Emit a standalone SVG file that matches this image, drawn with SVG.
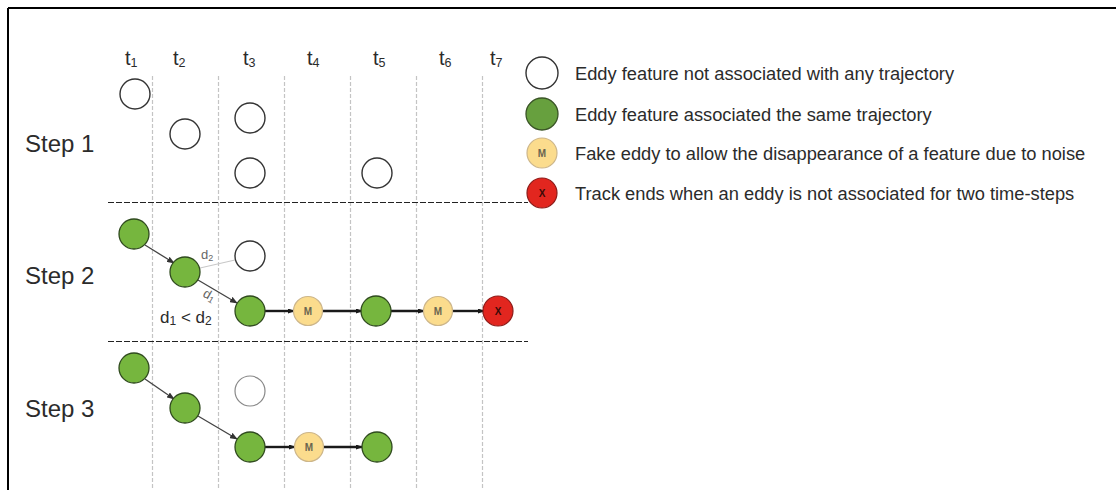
<svg xmlns="http://www.w3.org/2000/svg" width="1116" height="490" viewBox="0 0 1116 490">
<defs>
<style>
.txt{font-family:"Liberation Sans",Arial,sans-serif;fill:#2b2b2b}
.step{font-size:24px}
.tl{font-size:20px}
.sub{font-size:12.5px}
.leg{font-size:18.3px}
.vl{stroke:#c4c4c4;stroke-width:1.2;stroke-dasharray:4 2}
.hl{stroke:#222;stroke-width:1.2;stroke-dasharray:6 2}
.w{fill:#fff;stroke:#333;stroke-width:1.4}
.wl{fill:#fff;stroke:#888;stroke-width:1.2}
.g{fill:#76b63e;stroke:#2f4a1e;stroke-width:1.3}
.gl{fill:#67a03e;stroke:#3a5526;stroke-width:1.3}
.m{fill:#fbdc8d;stroke:#cdb68a;stroke-width:1.2}
.x{fill:#e2261f;stroke:#8c1b18;stroke-width:1.2}
.ml{font-family:"Liberation Sans",Arial,sans-serif;font-size:10px;font-weight:bold;fill:#6a6450;text-anchor:middle}
.xl{font-family:"Liberation Sans",Arial,sans-serif;font-size:10px;font-weight:bold;fill:#3a0a08;text-anchor:middle}
.thin{stroke:#444;stroke-width:1.3;fill:none}
.thick{stroke:#1a1a1a;stroke-width:2.4;fill:none}
</style>
<marker id="ah" markerWidth="8" markerHeight="6" refX="7" refY="3" orient="auto" markerUnits="userSpaceOnUse">
<path d="M0,0 L8,3 L0,6 z" fill="#333"/>
</marker>
<marker id="ahk" markerWidth="7" markerHeight="5" refX="6" refY="2.5" orient="auto" markerUnits="userSpaceOnUse">
<path d="M0,0 L7,2.5 L0,5 z" fill="#1a1a1a"/>
</marker>
</defs>
<rect width="1116" height="490" fill="#fff"/>
<g id="frame">
<line x1="8" y1="8" x2="1116" y2="8" stroke="#000" stroke-width="2"/>
<line x1="8" y1="8" x2="8" y2="490" stroke="#000" stroke-width="2"/>
</g>
<g id="grid">
<line class="vl" x1="152.5" y1="76" x2="152.5" y2="490"/>
<line class="vl" x1="218.5" y1="76" x2="218.5" y2="490"/>
<line class="vl" x1="284.5" y1="76" x2="284.5" y2="490"/>
<line class="vl" x1="350.5" y1="76" x2="350.5" y2="490"/>
<line class="vl" x1="416.5" y1="76" x2="416.5" y2="490"/>
<line class="vl" x1="482.5" y1="76" x2="482.5" y2="490"/>
<line class="hl" x1="108" y1="202.5" x2="528" y2="202.5"/>
<line class="hl" x1="108" y1="341.5" x2="528" y2="341.5"/>
</g>
<g id="time-labels" class="txt tl">
<text x="125" y="65">t<tspan class="sub" dy="2">1</tspan></text>
<text x="173" y="65">t<tspan class="sub" dy="2">2</tspan></text>
<text x="243" y="65">t<tspan class="sub" dy="2">3</tspan></text>
<text x="307" y="65">t<tspan class="sub" dy="2">4</tspan></text>
<text x="373" y="65">t<tspan class="sub" dy="2">5</tspan></text>
<text x="439" y="65">t<tspan class="sub" dy="2">6</tspan></text>
<text x="490" y="65">t<tspan class="sub" dy="2">7</tspan></text>
</g>
<g id="step-labels" class="txt step">
<text x="25" y="152">Step 1</text>
<text x="25" y="284">Step 2</text>
<text x="25" y="417">Step 3</text>
</g>
<g id="connectors">
<line class="thin" x1="145" y1="245" x2="174" y2="263" marker-end="url(#ah)"/>
<line x1="200" y1="268" x2="235" y2="260" stroke="#c8c8c8" stroke-width="1.2"/>
<line class="thin" x1="198" y1="280" x2="237" y2="303" marker-end="url(#ah)"/>
<line class="thick" x1="265" y1="311" x2="294" y2="311" marker-end="url(#ahk)"/>
<line class="thick" x1="323" y1="311" x2="362" y2="311" marker-end="url(#ahk)"/>
<line class="thick" x1="391" y1="311" x2="424" y2="311" marker-end="url(#ahk)"/>
<line class="thick" x1="453" y1="311" x2="484" y2="311" marker-end="url(#ahk)"/>
<line class="thin" x1="145" y1="379" x2="174" y2="399" marker-end="url(#ah)"/>
<line class="thin" x1="198" y1="416" x2="237" y2="439" marker-end="url(#ah)"/>
<line class="thick" x1="265" y1="447" x2="295" y2="447" marker-end="url(#ahk)"/>
<line class="thick" x1="324" y1="447" x2="362" y2="447" marker-end="url(#ahk)"/>
</g>
<g id="step1-nodes">
<circle class="w" cx="135" cy="94" r="15"/>
<circle class="w" cx="185" cy="134" r="15"/>
<circle class="w" cx="250" cy="118" r="15"/>
<circle class="w" cx="250" cy="173" r="15"/>
<circle class="w" cx="377" cy="173" r="15"/>
</g>
<g id="step2-nodes">
<circle class="g" cx="134" cy="234" r="15"/>
<circle class="g" cx="185" cy="272" r="15"/>
<circle class="w" cx="250" cy="256" r="15"/>
<circle class="g" cx="250" cy="311" r="15"/>
<circle class="m" cx="308" cy="311" r="14.5"/><text class="ml" x="308" y="315">M</text>
<circle class="g" cx="376" cy="311" r="15"/>
<circle class="m" cx="438" cy="311" r="14.5"/><text class="ml" x="438" y="315">M</text>
<circle class="x" cx="498" cy="311" r="15"/><text class="xl" x="498" y="315">X</text>
</g>
<g id="step2-labels" class="txt">
<text x="201" y="259" font-size="13" style="fill:#666">d<tspan font-size="9" dy="2">2</tspan></text>
<text transform="translate(202,296) rotate(30)" font-size="13" style="fill:#666">d<tspan font-size="9" dy="2">1</tspan></text>
<text x="160" y="323" font-size="17">d<tspan font-size="12" dy="2">1</tspan><tspan dy="-2"> &lt; d</tspan><tspan font-size="12" dy="2">2</tspan></text>
</g>
<g id="step3-nodes">
<circle class="g" cx="134" cy="368" r="15"/>
<circle class="g" cx="185" cy="408" r="15"/>
<circle class="wl" cx="250" cy="391" r="15"/>
<circle class="g" cx="250" cy="447" r="15"/>
<circle class="m" cx="309" cy="447" r="14.5"/><text class="ml" x="309" y="451">M</text>
<circle class="g" cx="377" cy="447" r="15"/>
</g>
<g id="legend">
<circle class="w" cx="542" cy="73" r="16"/>
<text class="txt leg" x="575" y="80">Eddy feature not associated with any trajectory</text>
<circle class="gl" cx="542" cy="114" r="16"/>
<text class="txt leg" x="575" y="121">Eddy feature associated the same trajectory</text>
<circle class="m" cx="542" cy="153" r="15"/><text class="ml" x="542" y="157">M</text>
<text class="txt leg" x="575" y="160">Fake eddy to allow the disappearance of a feature due to noise</text>
<circle class="x" cx="542" cy="193" r="15"/><text class="xl" x="542" y="197">X</text>
<text class="txt leg" x="575" y="200">Track ends when an eddy is not associated for two time-steps</text>
</g>
</svg>
